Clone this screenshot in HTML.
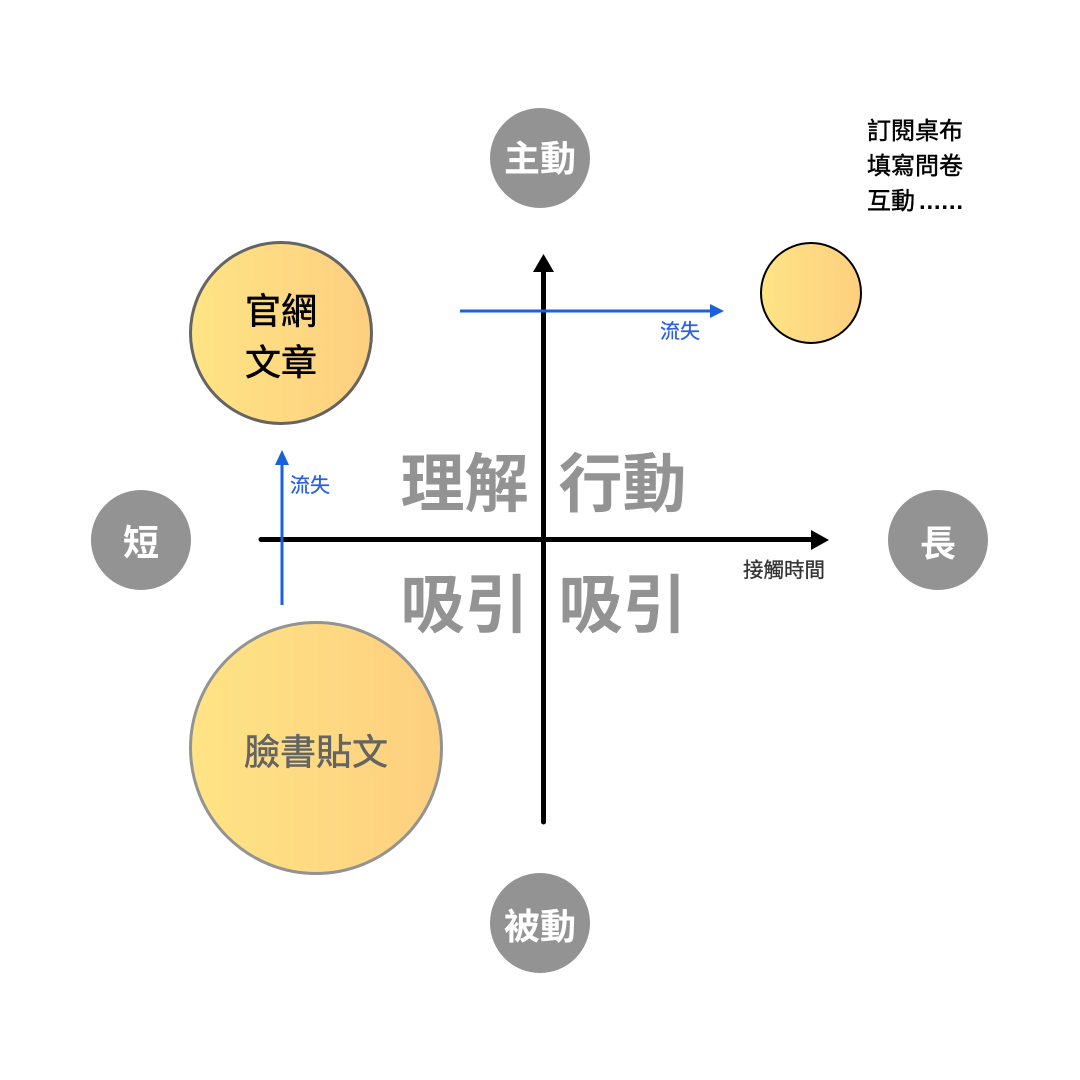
<!DOCTYPE html>
<html><head><meta charset="utf-8"><style>html,body{margin:0;padding:0;background:#fff}svg{display:block}text{font-family:"Liberation Sans","Noto Sans CJK TC",sans-serif}</style></head><body>
<svg width="1080" height="1080" viewBox="0 0 1080 1080" xmlns="http://www.w3.org/2000/svg">
<defs><linearGradient id="g" x1="0" y1="0" x2="1" y2="0"><stop offset="0" stop-color="#ffe485"/><stop offset="1" stop-color="#fdcf7f"/></linearGradient></defs>
<rect width="1080" height="1080" fill="#fff"/>
<circle cx="540" cy="158" r="50" fill="#939393"/><circle cx="141" cy="540" r="50" fill="#939393"/><circle cx="938" cy="540" r="50" fill="#939393"/><circle cx="540" cy="923" r="50" fill="#939393"/>
<g fill="#fff" font-size="36" font-weight="700" text-anchor="middle"><text x="540" y="171">主動</text><text x="141" y="555">短</text><text x="938" y="556">長</text><text x="540" y="939">被動</text></g>
<circle cx="281" cy="333" r="90.5" fill="url(#g)" stroke="#646464" stroke-width="3"/>
<circle cx="316" cy="748" r="125.5" fill="url(#g)" stroke="#939393" stroke-width="3"/>
<circle cx="811" cy="293" r="50" fill="url(#g)" stroke="#000" stroke-width="2"/>
<g font-size="36" text-anchor="middle" stroke="#000" stroke-width="0.6"><text x="281" y="323.500">官網</text><text x="281" y="375">文章</text></g>
<text x="316" y="764.500" font-size="36" fill="#646464" stroke="#646464" stroke-width="0.6" text-anchor="middle">臉書貼文</text>
<g font-size="24" stroke="#000" stroke-width="0.45"><text x="867" y="139">訂閱桌布</text><text x="867" y="174">填寫問卷</text><text x="867" y="209">互動</text></g>
<text x="919" y="209" font-size="24" font-weight="700" letter-spacing="0.8">......</text>
<path d="M261 539.500H815" stroke="#000" stroke-width="5" stroke-linecap="round"/><path d="M811 530L829 540L811 550Z" fill="#000"/>
<path d="M543.500 822V270" stroke="#000" stroke-width="5" stroke-linecap="round"/><path d="M533 272L543.500 254L554 272Z" fill="#000"/>
<path d="M460 311H712" stroke="#1a62dc" stroke-width="3"/><path d="M710 304L724 311L710 318Z" fill="#1a62dc"/>
<path d="M282 605V462" stroke="#1a62dc" stroke-width="3"/><path d="M275 465L282 450L289 465Z" fill="#1a62dc"/>
<g fill="#2a5fe0" stroke="#2a5fe0" stroke-width="0.3" font-size="20"><text x="660" y="338">流失</text><text x="290" y="492">流失</text></g>
<text x="743" y="577" font-size="20.500" fill="#333" stroke="#333" stroke-width="0.3">接觸時間</text>
<g fill="#939393" font-size="64" font-weight="700" text-anchor="middle"><text x="464.500" y="506.500">理解</text><text x="622.500" y="506.500">行動</text><text x="464.500" y="627.500">吸引</text><text x="622.500" y="627.500">吸引</text></g>
</svg></body></html>
